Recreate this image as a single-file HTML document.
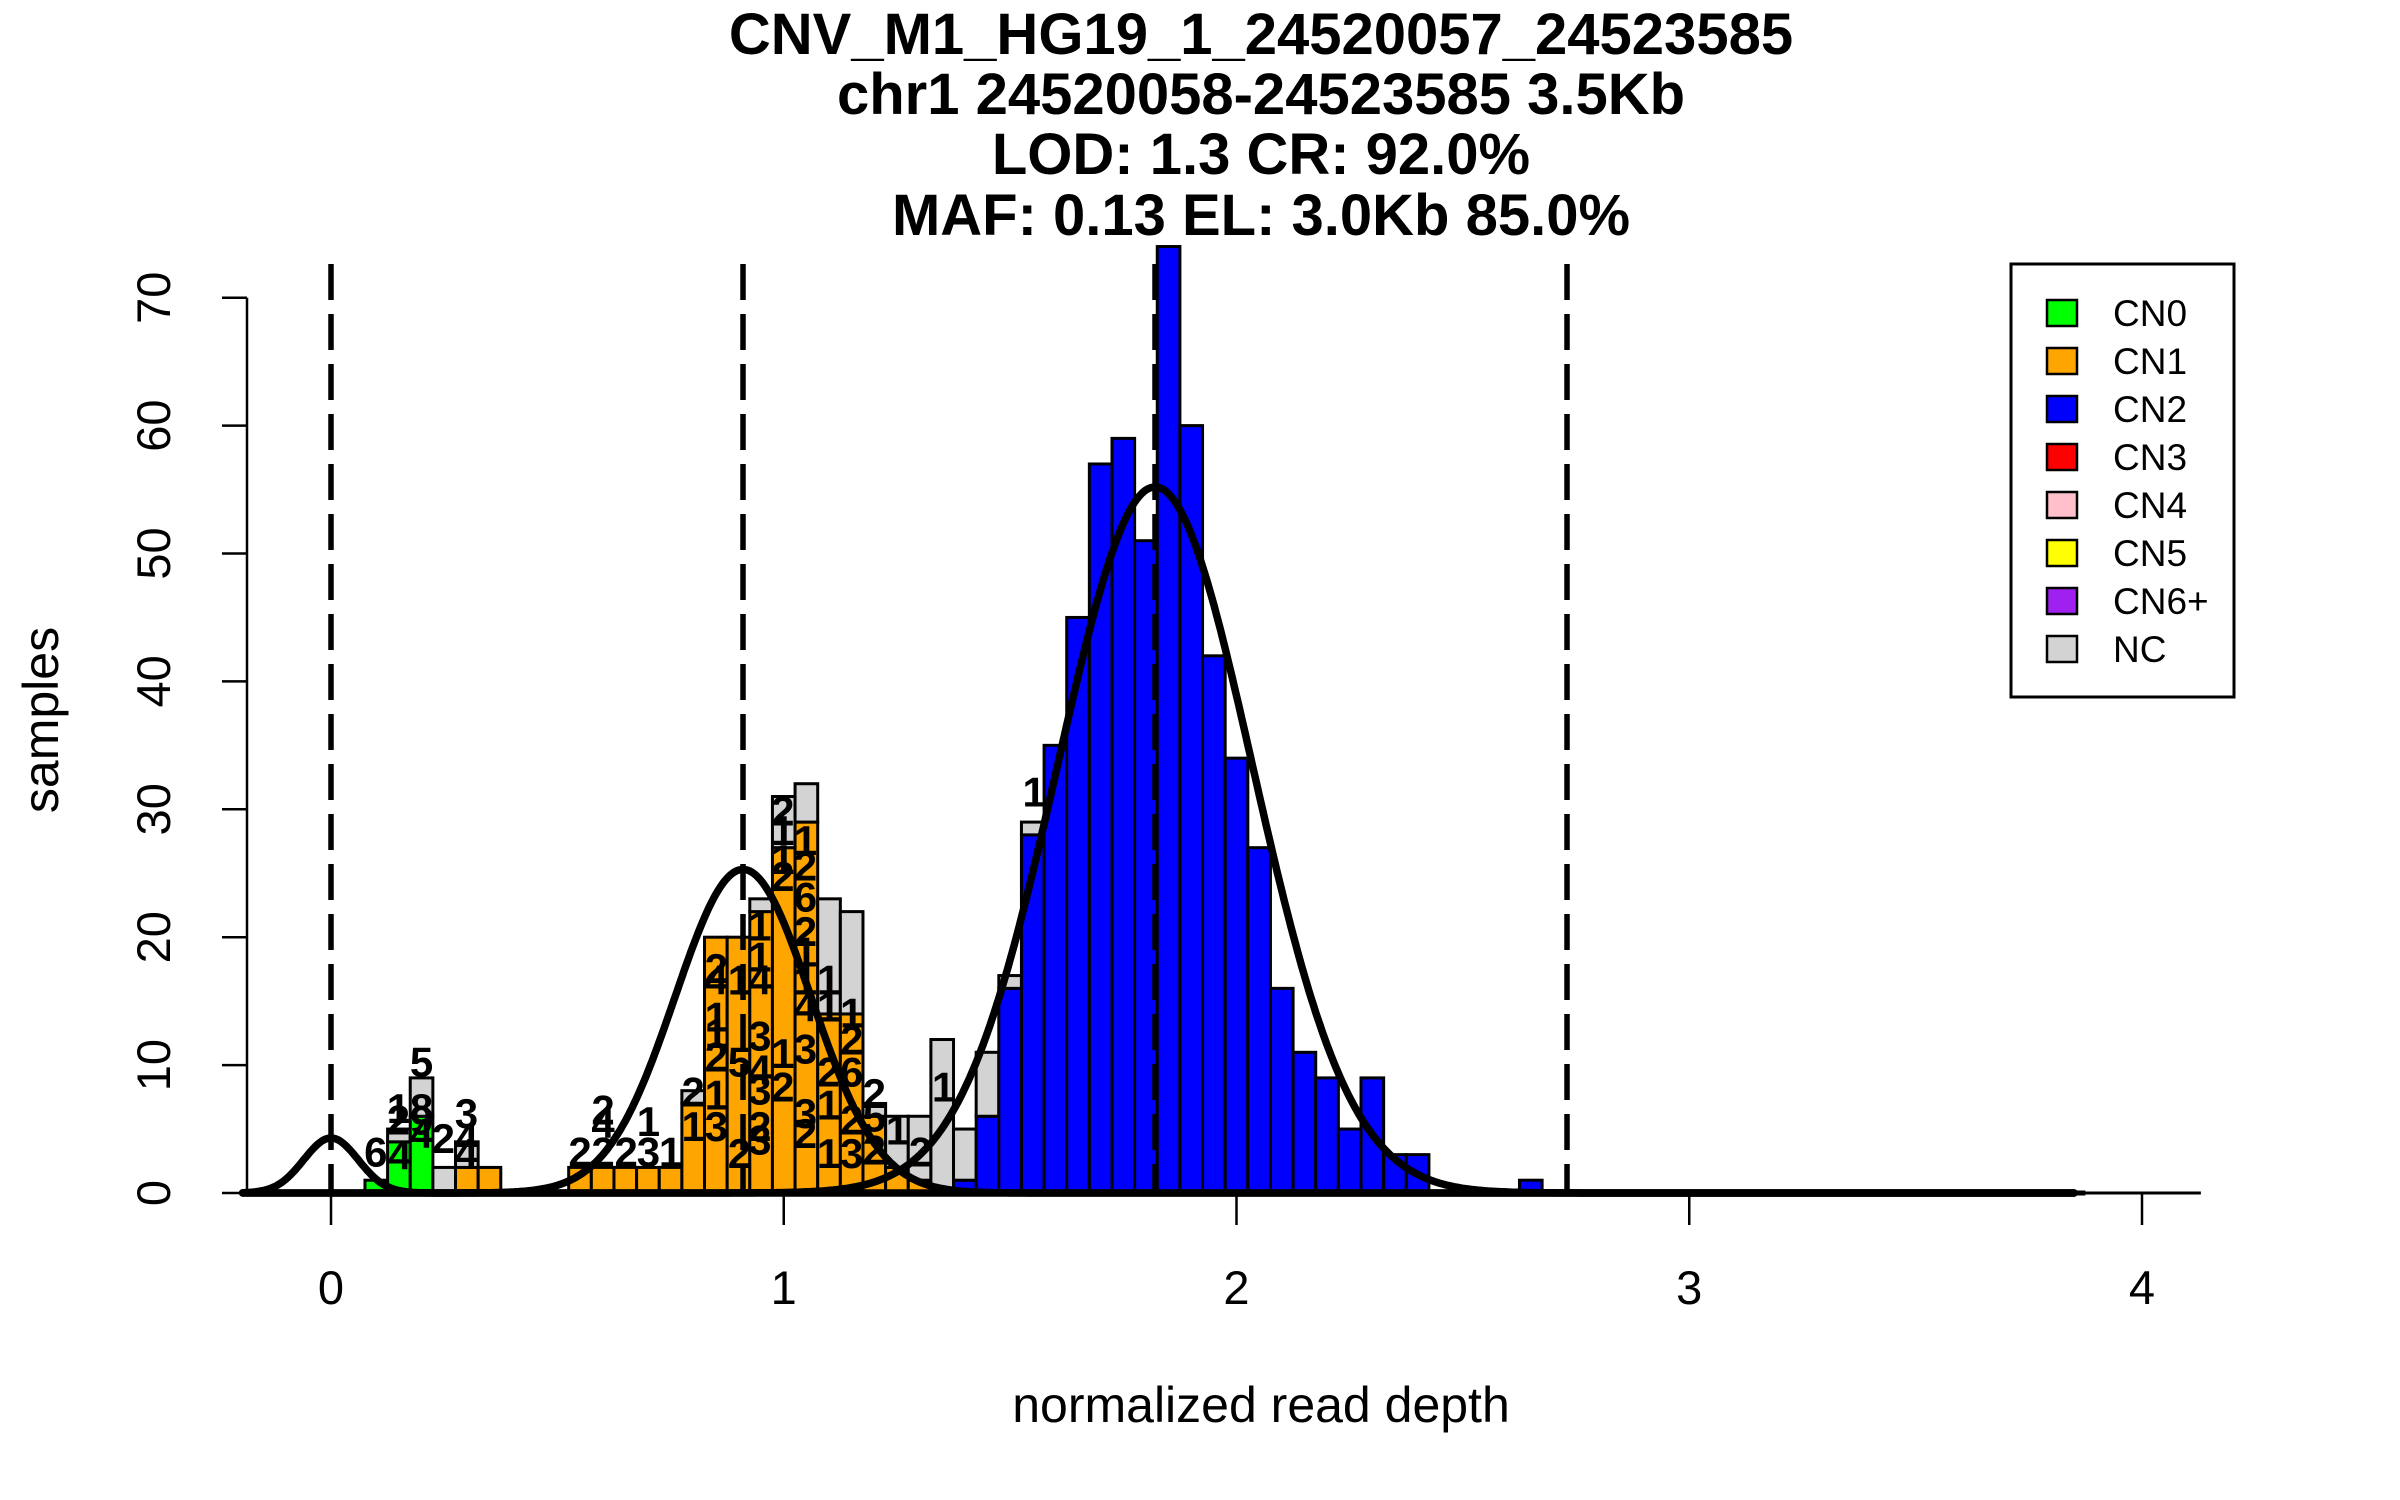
<!DOCTYPE html>
<html><head><meta charset="utf-8"><style>
html,body{margin:0;padding:0;background:#fff;}
svg{display:block;font-family:"Liberation Sans",sans-serif;}
</style></head><body>
<svg id="chart" width="2400" height="1500" viewBox="0 0 2400 1500" xmlns="http://www.w3.org/2000/svg">
<g font-weight="bold" font-size="58" text-anchor="middle" fill="#000">
<text x="1261" y="54">CNV_M1_HG19_1_24520057_24523585</text>
<text x="1261" y="114">chr1 24520058-24523585 3.5Kb</text>
<text x="1261" y="174">LOD: 1.3 CR: 92.0%</text>
<text x="1261" y="235">MAF: 0.13 EL: 3.0Kb 85.0%</text>
</g>
<text x="1261" y="1422" font-size="50" text-anchor="middle">normalized read depth</text>
<text x="0" y="0" font-size="50" text-anchor="middle" transform="translate(58,720) rotate(-90)">samples</text>
<g id="bars"></g>
<g id="labels" font-weight="bold" font-size="42" text-anchor="middle"></g>
<g id="curves"></g>
<g id="vlines"></g>
<g id="axes"></g>
<g>
<rect x="2011" y="264" width="223" height="433" fill="#fff" stroke="#000" stroke-width="3"/>
<g id="legend-entries"></g>
</g>
</svg>
<script>
const binStart = 0.075, binWidth = 0.05, nBins = 76;
const cn0 = {0:1, 1:4, 2:6};
const cn1 = {4:2, 5:2, 9:2, 10:2, 11:2, 12:2, 13:2, 14:7, 15:20, 16:20, 17:22, 18:27, 19:29, 20:14, 21:14, 22:6, 23:2, 24:1};
const cn2 = {26:1, 27:6, 28:16, 29:28, 30:35, 31:45, 32:57, 33:59, 34:51, 35:74, 36:60, 37:42, 38:34, 39:27, 40:16, 41:11, 42:9, 43:5, 44:9, 45:3, 46:3, 51:1};
const nc  = {1:1, 2:3, 3:2, 4:2, 14:1, 17:1, 18:4, 19:3, 20:9, 21:8, 22:1, 23:4, 24:5, 25:12, 26:4, 27:5, 28:1, 29:1};
const xTicks = [0,1,2,3,4];
const yTicks = [0,10,20,30,40,50,60,70];
const fitMeans = [0, 0.91, 1.82];
const fitPeaks = [4.3, 25.3, 55.2];
const fitSds = [0.06, 0.15, 0.215];
const meanLines = [0, 0.91, 1.82, 2.73];
const legendLabels = ["CN0","CN1","CN2","CN3","CN4","CN5","CN6+","NC"];
const legendColors = ["#00ff00","#ffa500","#0000ff","#ff0000","#ffc0cb","#ffff00","#a020f0","#d3d3d3"];
const labelX = [0.099,0.152,0.149,0.149,0.2,0.2,0.2,0.2,0.248,0.299,0.299,0.299,0.55,0.601,0.601,0.601,0.652,0.701,0.701,0.75,0.8,0.8,0.851,0.851,0.851,0.851,0.851,0.851,0.851,0.902,0.902,0.902,0.947,0.947,0.947,0.947,0.947,0.947,0.947,0.947,0.998,0.998,0.998,0.998,0.998,0.998,1.048,1.048,1.048,1.048,1.048,1.048,1.048,1.048,1.048,1.048,1.099,1.099,1.099,1.099,1.099,1.15,1.15,1.15,1.15,1.15,1.2,1.2,1.2,1.251,1.302,1.353,1.553];
const labelY = [3.26,3.0,5.74,6.65,6.65,5.74,4.69,10.3,4.3,4.3,6.26,3.13,3.26,3.26,5.48,6.52,3.26,3.26,5.61,3.26,7.95,5.22,5.22,7.69,10.69,12.5,13.8,17.6,16.7,16.7,10.3,3.13,16.7,18.5,20.9,12.3,9.65,8.08,5.22,4.17,8.34,10.95,24.8,26.1,29.9,28.4,27.6,25.6,23.2,20.5,18.9,16.7,14.6,11.3,6.26,4.69,16.7,14.6,9.5,6.9,3.13,12.0,9.5,14.1,5.74,3.13,7.82,6.0,3.39,4.95,3.26,8.34,31.4];
const labelText = ["6","4","2","1","8","9","4","5","2","4","3","4","2","2","4","2","2","3","1","1","2","1","3","1","2","1","1","2","4","1","5","2","4","1","1","3","4","3","2","3","2","1","2","1","2","1","1","2","6","2","1","1","4","3","3","2","1","1","2","1","1","2","6","1","2","3","2","5","2","1","2","1","1"];

const X0 = 331, XU = 452.75, Y0 = 1193, YU = 12.79;
const sx = v => X0 + v*XU;
const sy = v => Y0 - v*YU;
const NS = "http://www.w3.org/2000/svg";
function mk(tag, attrs, parent){ const e=document.createElementNS(NS,tag); for(const k in attrs) e.setAttribute(k,attrs[k]); parent.appendChild(e); return e; }

const gb = document.getElementById('bars');
for(let i=0;i<nBins;i++){
  const l = sx(binStart+i*binWidth), w = binWidth*XU;
  let base = 0;
  const layers = [[cn0,"#00ff00","cn0"],[cn1,"#ffa500","cn1"],[cn2,"#0000ff","cn2"],[nc,"#d3d3d3","nc"]];
  let any=false;
  for(const [s,c,n] of layers){
    const v = s[i]||0; if(!v) continue; any=true;
    const r = mk('rect',{x:l,y:sy(base+v),width:w,height:v*YU,fill:c,stroke:"#000","stroke-width":3},gb);
    
    
    base += v;
  }
  if(!any){
    const z = mk('line',{x1:l,x2:l+w,y1:Y0,y2:Y0,stroke:"#000","stroke-width":5},gb);
    
    
  }
}
const gl = document.getElementById('labels');
for(let i=0;i<labelText.length;i++){
  const t = mk('text',{x:sx(labelX[i]),y:sy(labelY[i])+15},gl);
  t.textContent = labelText[i];
  
  
}
const gc = document.getElementById('curves');
for(let k=0;k<fitMeans.length;k++){
  let d="";
  for(let x=-0.195;x<=3.853;x+=0.005){
    const y = fitPeaks[k]*Math.exp(-Math.pow(x-fitMeans[k],2)/(2*fitSds[k]*fitSds[k]));
    d += (d?"L":"M")+sx(x).toFixed(1)+","+sy(y).toFixed(1);
  }
  const p = mk('path',{d:d,fill:"none",stroke:"#000","stroke-width":7.5,"stroke-linejoin":"round","stroke-linecap":"round"},gc);
  
  
}
const gv = document.getElementById('vlines');
for(const m of meanLines){
  const ln = mk('line',{x1:sx(m),x2:sx(m),y1:264,y2:Y0,stroke:"#000","stroke-width":5.5,"stroke-dasharray":"36 14"},gv);
  
  
}
const ga = document.getElementById('axes');
const xl = mk('line',{x1:sx(-0.2),x2:sx(4.13),y1:Y0,y2:Y0,stroke:"#000","stroke-width":3},ga);


for(const t of xTicks){
  const tk = mk('line',{x1:sx(t),x2:sx(t),y1:Y0,y2:Y0+32,stroke:"#000","stroke-width":2.5},ga);
  
  
  const tx = mk('text',{x:sx(t),y:1304,"font-size":47,"text-anchor":"middle"},ga);
  tx.textContent = t;
  
  
}
const yl = mk('line',{x1:247,x2:247,y1:sy(0),y2:sy(70),stroke:"#000","stroke-width":2.5},ga);


for(const t of yTicks){
  const tk = mk('line',{x1:222,x2:247,y1:sy(t),y2:sy(t),stroke:"#000","stroke-width":2.5},ga);
  
  
  const tx = mk('text',{x:0,y:0,"font-size":47,"text-anchor":"middle",transform:"translate(170,"+sy(t)+") rotate(-90)"},ga);
  tx.textContent = t;
  
  
}
const gle = document.getElementById('legend-entries');
for(let i=0;i<legendLabels.length;i++){
  const cy = 313 + i*48;
  const r = mk('rect',{x:2047,y:cy-13,width:30,height:26,fill:legendColors[i],stroke:"#000","stroke-width":2.5},gle);
  
  
  const t = mk('text',{x:2113,y:cy+13,"font-size":37},gle);
  t.textContent = legendLabels[i];
  
  
}
</script>
</body></html>
